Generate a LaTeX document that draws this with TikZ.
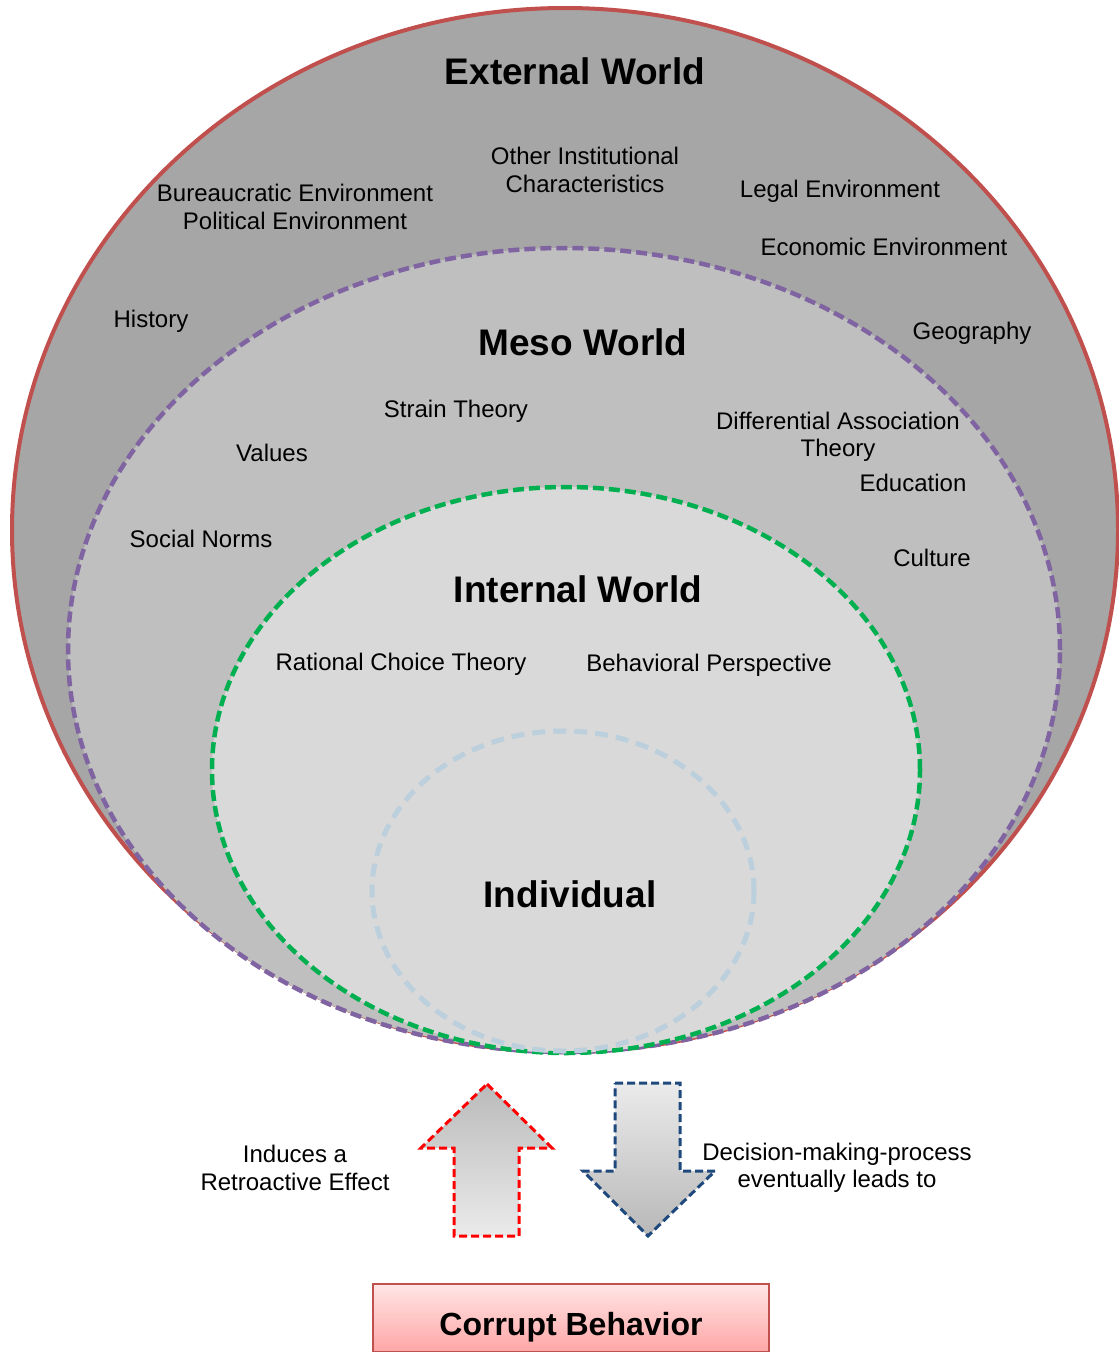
\documentclass[tikz,border=0pt]{standalone}
\usepackage{fontspec}
\setmainfont{Liberation Sans}
\usetikzlibrary{positioning}

\definecolor{outerred}{HTML}{C0504D}
\definecolor{mesopurple}{HTML}{8064A2}
\definecolor{intgreen}{HTML}{00B050}
\definecolor{indblue}{HTML}{BCCFDD}
\definecolor{arrowblue}{HTML}{1F497D}

\begin{document}
\begin{tikzpicture}[x=1pt,y=-1pt,
    lbl/.style={font=\fontsize{24}{27.5}\selectfont,align=center},
    worldtitle/.style={font=\fontsize{37}{44}\selectfont\bfseries},
  ]
%      \draw[help lines] (0,0) grid[step=100] (1119,1352);
      \useasboundingbox (0,0) rectangle (1119,1352);

      % the worlds
      \draw[line width=4pt,outerred,fill=black!35] (565,530) ellipse [x radius=553pt, y radius=522pt];
      \draw[line width=4.5pt,mesopurple,dash pattern=on 11pt off 5pt,fill=black!25] (564,650) ellipse [x radius=496pt, y radius=402pt];
      \draw[line width=4.5pt,intgreen,dash pattern=on 11pt off 5pt,fill=black!15] (566,770) ellipse [x radius=354pt, y radius=283pt];
      \draw[line width=5pt,indblue,dash pattern=on 13pt off 8pt,fill=black!15] (563,891) ellipse [x radius=191pt, y radius=160pt];

      \node[worldtitle] (external) at (575,71) {External World};
      \node[worldtitle] (meso)     at (583,342) {Meso World};
      \node[worldtitle] (internal) at (578,589) {Internal World};
      \node[worldtitle] (individual) at (570,894) {Individual};

      \node[lbl] (institutional) at (585,170) {Other Institutional\\Characteristics};
      \node[lbl] (bureau)    at (295,207) {Bureaucratic Environment\\Political Environment};
      \node[lbl] (legal)     at (840,191) {Legal Environment};
      \node[lbl] (economic)  at (884,247) {Economic Environment};
      \node[lbl] (history)   at (151,321) {History};
      \node[lbl] (geography) at (972,333) {Geography};

      \node[lbl] (strain)    at (456,411) {Strain Theory};
      \node[lbl] (values)    at (272,453) {Values};
      \node[lbl] (diffassoc) at (838,437) {Differential Association\\Theory};
      \node[lbl] (education) at (913,483) {Education};
      \node[lbl] (norms)     at (201,539) {Social Norms};
      \node[lbl] (culture)   at (932,558) {Culture};

      \node[lbl] (rational)   at (401,664) {Rational Choice Theory};
      \node[lbl] (behavioral) at (709,665) {Behavioral Perspective};

      % the two block arrows
      \draw[line width=3pt,red,dash pattern=on 8pt off 4pt,top color=black!27,bottom color=black!8]
        (487,1084) -- (552,1148) -- (519,1148) -- (519,1236) -- (454,1236) -- (454,1148) -- (421,1148) -- cycle;
      \draw[line width=3pt,arrowblue,dash pattern=on 8pt off 4pt,top color=black!8,bottom color=black!28]
        (615,1083) -- (680,1083) -- (680,1171) -- (715,1171) -- (648,1236) -- (583,1171) -- (615,1171) -- cycle;

      \node[lbl] (induces)  at (295,1168) {Induces a\\Retroactive Effect};
      \node[lbl] (decision) at (837,1168) {Decision-making-process\\eventually leads to};

      % result
      \draw[line width=1.5pt,outerred,top color=red!10,bottom color=red!35] (373,1284) rectangle (769,1352);
      \node[font=\fontsize{32}{38}\selectfont\bfseries] (corrupt) at (571,1327) {Corrupt Behavior};
    \end{tikzpicture}
\end{document}
